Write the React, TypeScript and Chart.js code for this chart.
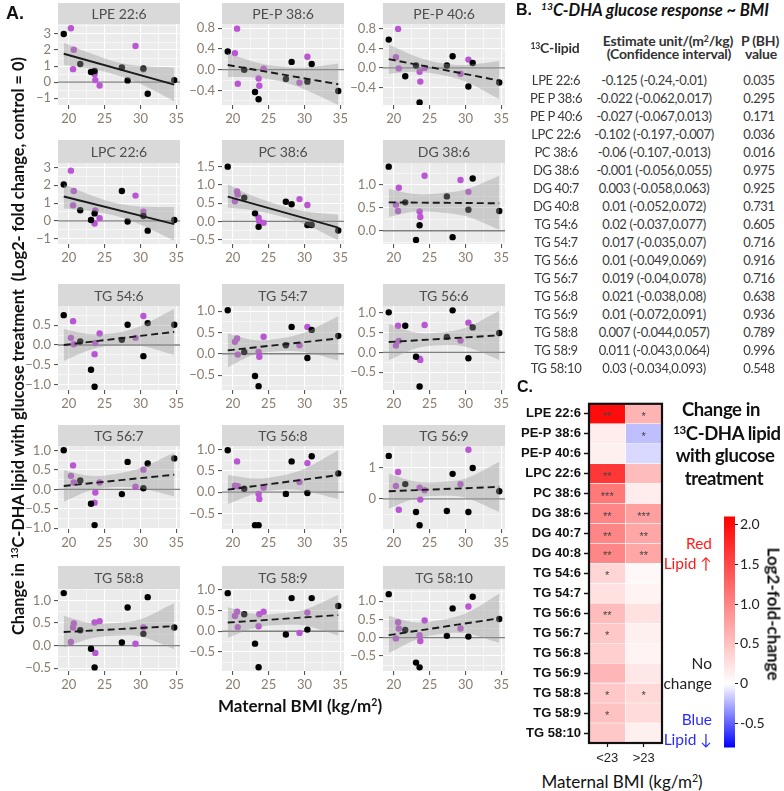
import React, { useEffect, useRef } from 'react';
import { Chart, registerables } from 'chart.js';
Chart.register(...registerables);

// ---------------- Panel A data ----------------
const panelLipids = ['LPE 22:6', 'PE-P 38:6', 'PE-P 40:6', 'LPC 22:6', 'PC 38:6', 'DG 38:6', 'TG 54:6', 'TG 54:7', 'TG 56:6', 'TG 56:7', 'TG 56:8', 'TG 56:9', 'TG 58:8', 'TG 58:9', 'TG 58:10'];
const bmiBlack = [19.3, 21.6, 23.1, 23.6, 27.4, 28.2, 30.4, 31.0, 34.7];
const bmiPurple = [20.3, 20.6, 20.7, 23.6, 23.7, 24.3, 29.3, 30.4];
const lipidBlack = [
  [3.0, 1.13, 0.64, 0.7, 0.91, 0.11, 0.85, -0.72, 0.13],
  [0.35, 0.0, -0.43, -0.57, -0.18, 0.15, -0.23, 0.11, -0.41],
  [0.58, -0.17, 0.05, -0.71, 0.05, 0.24, -0.38, 0.1, -0.3],
  [2.04, 0.6, 0.05, 0.42, 1.68, -0.04, 0.27, -0.55, 0.05],
  [1.5, 0.65, 0.22, -0.15, 0.54, 0.47, -0.1, -0.1, -0.25],
  [1.4, 0.62, -0.2, 0.12, 0.75, -0.14, 0.46, 1.14, 0.43],
  [0.75, 0.09, -0.62, -1.05, 0.13, 0.51, -0.28, 0.55, 0.51],
  [1.02, 0.04, -0.52, -0.76, 0.2, 0.63, -0.1, 0.56, 0.42],
  [1.01, 0.67, -0.11, -0.86, 0.39, 1.06, -0.15, 0.63, 0.49],
  [1.01, 0.23, -0.37, -0.92, -0.12, 0.71, 0.03, 0.67, 0.8],
  [0.98, 0.08, -0.77, -0.77, -0.04, 0.72, -0.02, 0.84, 0.44],
  [1.39, 0.48, -0.42, -0.85, -0.39, 0.81, -0.42, 1.0, 0.25],
  [1.16, 0.34, -0.07, -0.48, 0.07, 0.84, 0.26, 1.07, 0.4],
  [0.92, 0.41, -0.3, -0.87, -0.08, 0.8, 0.04, 0.8, 0.61],
  [1.19, 0.21, -0.68, -0.81, 0.05, 0.8, 0.03, 1.12, 0.51],
];
const lipidPurple = [
  [3.36, 0.81, 2.02, 0.49, 0.13, -0.21, 2.25, 0.8],
  [0.32, 0.79, -0.27, -0.17, -0.31, 0.02, -0.25, 0.25],
  [0.22, 0.8, -0.01, -0.08, -0.28, 0.0, -0.12, 0.17],
  [2.82, 0.87, 1.68, -0.15, 0.58, 0.15, 1.42, 0.51],
  [0.55, 0.82, 0.74, 0.1, 0.0, -0.04, 0.61, 0.45],
  [0.57, 0.43, 0.94, 0.42, 0.3, 1.2, 1.11, 0.85],
  [0.18, 0.6, 0.02, -0.23, 0.05, 0.29, 0.18, 0.73],
  [0.28, 0.36, -0.02, 0.04, -0.07, 0.4, 0.2, 0.63],
  [0.17, 0.67, 0.29, -0.16, -0.19, 0.69, 0.3, 0.75],
  [0.35, 0.62, 0.18, -0.34, -0.08, 0.18, 0.07, 0.51],
  [0.15, 0.72, 0.14, -0.04, -0.16, 0.11, 0.24, 0.68],
  [0.42, 0.87, -0.35, 0.36, -0.02, 0.28, 0.48, 1.59],
  [0.08, 0.4, 0.49, 0.51, -0.16, 0.54, 0.04, 0.4],
  [0.37, 0.47, 0.1, 0.12, 0.41, 0.47, -0.04, 0.45],
  [-0.02, 0.42, 0.25, 0.07, -0.09, 0.47, 0.25, 0.85],
];
const fitBmi = [19.3, 34.7];
const fitStart = [1.77, 0.09, 0.18, 1.37, 0.68, 0.62, 0.0, 0.08, 0.26, 0.09, 0.06, 0.25, 0.3, 0.21, 0.07];
const fitEnd = [-0.15, -0.28, -0.26, -0.18, -0.17, 0.6, 0.33, 0.36, 0.43, 0.38, 0.4, 0.39, 0.43, 0.39, 0.53];
const fitSignificant = [true, false, false, true, true, false, false, false, false, false, false, false, false, false, false];
const bandBmi = [19.3, 23, 26.5, 30, 34.7];
const bandUpper = [
  [2.45, 1.8, 1.27, 1.0, 0.92],
  [0.32, 0.15, 0.06, 0.04, 0.12],
  [0.48, 0.24, 0.1, 0.06, 0.14],
  [2.05, 1.45, 1.0, 0.8, 0.78],
  [1.02, 0.68, 0.45, 0.28, 0.18],
  [0.92, 0.8, 0.82, 0.9, 1.2],
  [0.4, 0.27, 0.3, 0.48, 0.91],
  [0.48, 0.32, 0.36, 0.5, 0.88],
  [0.72, 0.5, 0.5, 0.62, 1.05],
  [0.5, 0.35, 0.4, 0.55, 0.95],
  [0.4, 0.32, 0.38, 0.55, 0.98],
  [0.82, 0.56, 0.55, 0.66, 1.2],
  [0.66, 0.5, 0.5, 0.58, 0.94],
  [0.58, 0.42, 0.43, 0.52, 0.88],
  [0.6, 0.42, 0.48, 0.66, 1.2],
];
const bandLower = [
  [1.07, 0.85, 0.47, -0.1, -1.2],
  [-0.14, -0.15, -0.22, -0.38, -0.68],
  [-0.12, -0.08, -0.14, -0.28, -0.64],
  [0.7, 0.55, 0.28, -0.22, -1.12],
  [0.38, 0.3, 0.15, -0.08, -0.52],
  [0.3, 0.42, 0.4, 0.32, 0.02],
  [-0.4, -0.12, 0.0, -0.02, -0.25],
  [-0.32, -0.02, 0.06, 0.04, -0.16],
  [-0.2, 0.1, 0.18, 0.14, -0.19],
  [-0.32, -0.03, 0.06, 0.03, -0.18],
  [-0.28, -0.04, 0.06, 0.03, -0.16],
  [-0.32, 0.02, 0.1, 0.04, -0.42],
  [-0.04, 0.16, 0.22, 0.2, -0.08],
  [-0.16, 0.08, 0.15, 0.14, -0.1],
  [-0.42, -0.06, 0.1, 0.12, -0.14],
];
const yMin = [-1.42, -0.68, -0.76, -1.3, -0.62, -0.29, -1.13, -0.85, -0.95, -1.02, -0.86, -0.97, -0.56, -0.96, -0.91];
const yMax = [3.62, 0.88, 0.9, 3.25, 1.6, 1.48, 0.98, 1.12, 1.17, 1.12, 1.08, 1.71, 1.25, 1.02, 1.33];
const yTicks = [
  [-1, 0, 1, 2, 3],
  [-0.4, 0, 0.4, 0.8],
  [-0.4, 0, 0.4, 0.8],
  [-1, 0, 1, 2, 3],
  [-0.5, 0, 0.5, 1, 1.5],
  [0, 0.5, 1],
  [-1, -0.5, 0, 0.5],
  [-0.5, 0, 0.5, 1],
  [-0.5, 0, 0.5, 1],
  [-1, -0.5, 0, 0.5, 1],
  [-0.5, 0, 0.5, 1],
  [0, 1],
  [-0.5, 0, 0.5, 1],
  [-0.5, 0, 0.5, 1],
  [-0.5, 0, 0.5, 1],
];
const yDecimals = [0, 1, 1, 0, 1, 1, 1, 1, 1, 1, 1, 0, 1, 1, 1];
const xTicks = [20, 25, 30, 35];
const xMin = 18.5;
const xMax = 35.5;

// ---------------- Panel B data ----------------
const tableLipids = ['LPE 22:6', 'PE P 38:6', 'PE P 40:6', 'LPC 22:6', 'PC 38:6', 'DG 38:6', 'DG 40:7', 'DG 40:8', 'TG 54:6', 'TG 54:7', 'TG 56:6', 'TG 56:7', 'TG 56:8', 'TG 56:9', 'TG 58:8', 'TG 58:9', 'TG 58:10'];
const tableEstimate = [-0.125, -0.022, -0.027, -0.102, -0.06, -0.001, 0.003, 0.01, 0.02, 0.017, 0.01, 0.019, 0.021, 0.01, 0.007, 0.011, 0.03];
const tableCiLow = [-0.24, -0.062, -0.067, -0.197, -0.107, -0.056, -0.058, -0.052, -0.037, -0.035, -0.049, -0.04, -0.038, -0.072, -0.044, -0.043, -0.034];
const tableCiHigh = [-0.01, 0.017, 0.013, -0.007, -0.013, 0.055, 0.063, 0.072, 0.077, 0.07, 0.069, 0.078, 0.08, 0.091, 0.057, 0.064, 0.093];
const tableP = [0.035, 0.295, 0.171, 0.036, 0.016, 0.975, 0.925, 0.731, 0.605, 0.716, 0.916, 0.716, 0.638, 0.936, 0.789, 0.996, 0.548];

// ---------------- Panel C data ----------------
const heatLipids = ['LPE 22:6', 'PE-P 38:6', 'PE-P 40:6', 'LPC 22:6', 'PC 38:6', 'DG 38:6', 'DG 40:7', 'DG 40:8', 'TG 54:6', 'TG 54:7', 'TG 56:6', 'TG 56:7', 'TG 56:8', 'TG 56:9', 'TG 58:8', 'TG 58:9', 'TG 58:10'];
const bmiGroups = ['<23', '>23'];
const fcLow = [2.0, 0.15, 0.12, 1.65, 1.1, 1.0, 1.0, 1.0, 0.35, 0.25, 0.55, 0.45, 0.4, 0.6, 0.45, 0.5, 0.45];
const fcHigh = [0.62, -0.2, -0.12, 0.55, 0.15, 0.78, 0.73, 0.73, 0.06, 0.1, 0.25, 0.12, 0.1, 0.2, 0.32, 0.3, 0.12];
const starsLow = ['**', '', '', '**', '***', '**', '**', '**', '*', '', '**', '*', '', '', '*', '*', ''];
const starsHigh = ['*', '*', '', '', '', '***', '**', '**', '', '', '', '', '', '', '*', '', ''];
const cbMin = -0.8;
const cbMax = 2.1;
const cbTicks = [-0.5, 0, 0.5, 1.0, 1.5, 2.0];
const cbTickLabels = ['-0.5', '0', '0.5', '1.0', '1.5', '2.0'];

// ---------------- layout ----------------
const colLeft = [58, 222, 383];
const plotW = 122;
const rowStripTop = [3, 140, 284, 425, 566];
const rowStripH = [21, 23, 22, 21, 23];
const rowPlotBottom = [105, 244, 390, 529, 671];
const Y_AXIS_W = 45;
const X_AXIS_H = 26;
const RIGHT_PAD = 10;

const TICK_COLOR = '#8a7c70';
const PURPLE = '#BA55D3';

function fcColor(v: number) {
  if (v >= 0) {
    const t = Math.min(v / cbMax, 1);
    const c = Math.round(255 * (1 - t));
    return `rgb(255,${c},${c})`;
  }
  const t = Math.min(-v / -cbMin, 1);
  const c = Math.round(255 * (1 - t));
  return `rgb(${c},${c},255)`;
}

const ggPlugin = {
  id: 'gg',
  beforeDraw(chart: any, _args: any, opts: any) {
    const { ctx, chartArea: a } = chart;
    ctx.save();
    ctx.fillStyle = '#EBEBEB';
    ctx.fillRect(a.left, a.top, a.right - a.left, a.bottom - a.top);
    ctx.fillStyle = '#D9D9D9';
    ctx.fillRect(a.left, a.top - opts.stripH, a.right - a.left, opts.stripH);
    ctx.fillStyle = '#4d4d4d';
    ctx.font = '14px Lato';
    ctx.textAlign = 'center';
    ctx.textBaseline = 'middle';
    ctx.fillText(opts.title, (a.left + a.right) / 2, a.top - opts.stripH / 2 + 1);
    ctx.restore();
  },
};

function fmtTick(v: number, d: number) {
  const s = Math.abs(v).toFixed(d);
  return v < -1e-9 ? '\u2212' + s : s;
}

function ScatterPanel({ i }: { i: number }) {
  const ref = useRef<HTMLCanvasElement>(null);
  const row = Math.floor(i / 3);
  const col = i % 3;
  const left = colLeft[col] - Y_AXIS_W;
  const top = rowStripTop[row];
  const width = Y_AXIS_W + plotW + RIGHT_PAD;
  const height = rowPlotBottom[row] - top + X_AXIS_H;

  useEffect(() => {
    const yMajor = yTicks[i];
    const step = yMajor[1] - yMajor[0];
    const buildY = () => {
      const arr: any[] = [];
      for (let k = -1; k < yMajor.length; k++) {
        const base = k < 0 ? yMajor[0] - step : yMajor[k];
        if (k >= 0) arr.push({ value: base, mj: true });
        const mid = base + step / 2;
        if (mid >= yMin[i] && mid <= yMax[i]) arr.push({ value: mid, mj: false });
      }
      return arr.sort((a, b) => a.value - b.value);
    };
    const buildX = () => {
      const arr: any[] = [];
      xTicks.forEach((t, k) => {
        arr.push({ value: t, mj: true });
        if (k < xTicks.length - 1) arr.push({ value: (t + xTicks[k + 1]) / 2, mj: false });
      });
      return arr;
    };
    const gridOpts = {
      color: '#ffffff',
      lineWidth: (c: any) => (c.tick && c.tick.mj ? 1.1 : 0.55),
      tickColor: (c: any) => (c.tick && c.tick.mj ? '#555555' : 'rgba(0,0,0,0)'),
      tickWidth: 1.1,
      tickLength: 4,
      drawTicks: true,
    };
    const chart = new Chart(ref.current as HTMLCanvasElement, {
      type: 'line',
      data: {
        datasets: [
          {
            data: [{ x: xMin, y: 0 }, { x: xMax, y: 0 }],
            borderColor: '#808080',
            borderWidth: 1.3,
            pointRadius: 0,
            order: 6,
          },
          {
            data: bmiPurple.map((x, k) => ({ x, y: lipidPurple[i][k] })),
            showLine: false,
            pointRadius: 3.2,
            pointBackgroundColor: PURPLE,
            pointBorderColor: PURPLE,
            pointBorderWidth: 0,
            order: 5,
          },
          {
            data: bmiBlack.map((x, k) => ({ x, y: lipidBlack[i][k] })),
            showLine: false,
            pointRadius: 3.2,
            pointBackgroundColor: '#000000',
            pointBorderColor: '#000000',
            pointBorderWidth: 0,
            order: 4,
          },
          {
            data: bandBmi.map((x, k) => ({ x, y: bandUpper[i][k] })),
            borderColor: 'rgba(0,0,0,0)',
            borderWidth: 0,
            pointRadius: 0,
            tension: 0.35,
            fill: false,
            order: 3,
          },
          {
            data: bandBmi.map((x, k) => ({ x, y: bandLower[i][k] })),
            borderColor: 'rgba(0,0,0,0)',
            borderWidth: 0,
            pointRadius: 0,
            tension: 0.35,
            fill: '-1',
            backgroundColor: 'rgba(153,153,153,0.4)',
            order: 2,
          },
          {
            data: [
              { x: fitBmi[0], y: fitStart[i] },
              { x: fitBmi[1], y: fitEnd[i] },
            ],
            borderColor: '#1a1a1a',
            borderWidth: 1.9,
            borderDash: fitSignificant[i] ? [] : [7, 4],
            pointRadius: 0,
            order: 1,
          },
        ],
      },
      options: {
        responsive: false,
        animation: false,
        events: [],
        layout: { padding: { top: rowStripH[row], right: RIGHT_PAD, left: 0, bottom: 0 }, autoPadding: false },
        plugins: {
          legend: { display: false },
          tooltip: { enabled: false },
          gg: { title: panelLipids[i], stripH: rowStripH[row] },
        } as any,
        scales: {
          x: {
            type: 'linear',
            min: xMin,
            max: xMax,
            afterFit: (s: any) => {
              s.height = X_AXIS_H;
            },
            afterBuildTicks: (s: any) => {
              s.ticks = buildX();
            },
            border: { display: false },
            grid: gridOpts as any,
            ticks: {
              autoSkip: false,
              maxRotation: 0,
              minRotation: 0,
              padding: 2,
              color: TICK_COLOR,
              font: { family: 'Lato', size: 13 },
              callback: (v: any, idx: number, ticks: any[]) => (ticks[idx] && ticks[idx].mj ? String(v) : ''),
            },
          },
          y: {
            type: 'linear',
            min: yMin[i],
            max: yMax[i],
            afterFit: (s: any) => {
              s.width = Y_AXIS_W;
            },
            afterBuildTicks: (s: any) => {
              s.ticks = buildY();
            },
            border: { display: false },
            grid: gridOpts as any,
            ticks: {
              autoSkip: false,
              padding: 3,
              color: TICK_COLOR,
              font: { family: 'Lato', size: 13 },
              callback: (v: any, idx: number, ticks: any[]) =>
                ticks[idx] && ticks[idx].mj ? fmtTick(Number(v), yDecimals[i]) : '',
            },
          },
        },
      } as any,
      plugins: [ggPlugin],
    });
    return () => chart.destroy();
  }, [i]);

  return (
    <canvas
      ref={ref}
      width={width}
      height={height}
      style={{ position: 'absolute', left, top, width, height }}
    />
  );
}

const heatFramePlugin = {
  id: 'heatFrame',
  afterDatasetsDraw(chart: any, _a: any, opts: any) {
    const { ctx, chartArea: a } = chart;
    ctx.save();
    ctx.font = '11px "Liberation Sans"';
    ctx.fillStyle = '#444';
    ctx.textAlign = 'center';
    ctx.textBaseline = 'middle';
    chart.data.datasets.forEach((_d: any, di: number) => {
      const meta = chart.getDatasetMeta(di);
      meta.data.forEach((bar: any, j: number) => {
        const s = opts.stars[di][j];
        if (s) ctx.fillText(s, (bar.x + bar.base) / 2, bar.y + 3);
      });
    });
    ctx.strokeStyle = '#111';
    ctx.lineWidth = 2.2;
    ctx.strokeRect(a.left, a.top, a.right - a.left, a.bottom - a.top);
    ctx.restore();
  },
};

const HEAT_LEFT = 510;
const HEAT_TOP = 393;
const HEAT_YAXIS_W = 79;
const HEAT_W = 158;
const HEAT_H = 375;

function HeatMap() {
  const ref = useRef<HTMLCanvasElement>(null);
  useEffect(() => {
    const chart = new Chart(ref.current as HTMLCanvasElement, {
      type: 'bar',
      data: {
        labels: heatLipids,
        datasets: [fcLow, fcHigh].map((vals) => ({
          data: heatLipids.map(() => 1),
          backgroundColor: vals.map(fcColor),
          borderColor: 'rgba(255,255,255,0.55)',
          borderWidth: 0.6,
          borderSkipped: false,
          barPercentage: 1,
          categoryPercentage: 1,
        })),
      },
      options: {
        indexAxis: 'y',
        responsive: false,
        animation: false,
        events: [],
        layout: { padding: { top: 5, right: 6, left: 0, bottom: 0 }, autoPadding: false },
        plugins: {
          legend: { display: false },
          tooltip: { enabled: false },
          heatFrame: { stars: [starsLow, starsHigh] },
        } as any,
        scales: {
          x: {
            type: 'linear',
            stacked: true,
            min: 0,
            max: 2,
            afterFit: (s: any) => {
              s.height = 25;
            },
            afterBuildTicks: (s: any) => {
              s.ticks = [{ value: 0.5 }, { value: 1.5 }];
            },
            border: { display: false },
            grid: { drawOnChartArea: false, tickLength: 4, tickColor: '#111', tickWidth: 1.2 },
            ticks: {
              autoSkip: false,
              maxRotation: 0,
              padding: 4,
              color: '#222',
              font: { family: 'Liberation Sans', size: 13 },
              callback: (_v: any, idx: number) => bmiGroups[idx],
            },
          },
          y: {
            type: 'category',
            stacked: true,
            afterFit: (s: any) => {
              s.width = HEAT_YAXIS_W;
            },
            border: { display: false },
            grid: { drawOnChartArea: false, offset: false, tickLength: 5, tickColor: '#111', tickWidth: 1.5 },
            ticks: {
              autoSkip: false,
              padding: 3,
              color: '#111',
              font: { family: 'Liberation Sans', size: 13, weight: 'bold' },
            },
          },
        },
      } as any,
      plugins: [heatFramePlugin],
    });
    return () => chart.destroy();
  }, []);
  return (
    <canvas
      ref={ref}
      width={HEAT_W}
      height={HEAT_H}
      style={{ position: 'absolute', left: HEAT_LEFT, top: HEAT_TOP, width: HEAT_W, height: HEAT_H }}
    />
  );
}

function ColorBar() {
  const ref = useRef<HTMLCanvasElement>(null);
  useEffect(() => {
    const zeroFrac = (0 - cbMin) / (cbMax - cbMin);
    const chart = new Chart(ref.current as HTMLCanvasElement, {
      type: 'bar',
      data: {
        labels: [''],
        datasets: [
          {
            data: [[cbMin, cbMax]] as any,
            barPercentage: 1,
            categoryPercentage: 1,
            borderWidth: 0,
            backgroundColor: (c: any) => {
              const ch = c.chart;
              if (!ch.chartArea) return '#ffffff';
              const ys = ch.scales.y;
              const g = ch.ctx.createLinearGradient(0, ys.getPixelForValue(cbMin), 0, ys.getPixelForValue(cbMax));
              g.addColorStop(0, fcColor(cbMin));
              g.addColorStop(zeroFrac, '#ffffff');
              g.addColorStop(1, fcColor(cbMax));
              return g;
            },
          },
        ],
      },
      options: {
        responsive: false,
        animation: false,
        events: [],
        layout: { padding: { top: 10, right: 0, left: 0, bottom: 10 }, autoPadding: false },
        plugins: { legend: { display: false }, tooltip: { enabled: false } },
        scales: {
          x: { display: false },
          y: {
            position: 'right',
            min: cbMin,
            max: cbMax,
            afterFit: (s: any) => {
              s.width = 40;
            },
            afterBuildTicks: (s: any) => {
              s.ticks = cbTicks.map((v) => ({ value: v }));
            },
            border: { display: false },
            grid: { drawOnChartArea: false, tickLength: 3, tickColor: '#222', tickWidth: 1 },
            ticks: {
              autoSkip: false,
              padding: 2,
              color: '#222',
              font: { family: 'Lato', size: 14 },
              callback: (_v: any, idx: number) => cbTickLabels[idx],
            },
          },
        },
      } as any,
    });
    return () => chart.destroy();
  }, []);
  return (
    <canvas
      ref={ref}
      width={51}
      height={252}
      style={{ position: 'absolute', left: 724, top: 506, width: 51, height: 252 }}
    />
  );
}

function T({ x, y, align = 'center', style, children }: any) {
  const tx = align === 'center' ? '-50%' : align === 'right' ? '-100%' : '0';
  return (
    <div
      style={{
        position: 'absolute',
        left: x,
        top: y,
        transform: `translate(${tx}, -50%)`,
        whiteSpace: 'nowrap',
        lineHeight: 1.1,
        ...style,
      }}
    >
      {children}
    </div>
  );
}

const supStyle: any = { fontSize: '0.62em', verticalAlign: '0.55em', lineHeight: 0 };
const bodyStyle: any = { fontSize: 13, letterSpacing: '-0.35px', color: '#3a3a3a' };
const headStyle: any = { fontWeight: 700, fontSize: 14, letterSpacing: '-0.2px', color: '#333' };
const heatTitleStyle: any = { fontWeight: 700, fontSize: 18.5, letterSpacing: '-0.4px' };

export default function App() {
  const tableRowY = (k: number) => 79.5 + 18 * k;
  return (
    <div
      style={{
        position: 'absolute',
        left: 0,
        top: 0,
        width: 784,
        height: 791,
        background: '#ffffff',
        overflow: 'hidden',
        fontFamily: 'Lato, sans-serif',
        color: '#111',
      }}
    >
      {panelLipids.map((_, i) => (
        <ScatterPanel key={i} i={i} />
      ))}
      <HeatMap />
      <ColorBar />

      {/* Panel A labels */}
      <T x={6} y={14} align="left" style={{ fontWeight: 700, fontSize: 18, fontFamily: 'Liberation Sans' }}>
        A.
      </T>
      <div
        style={{
          position: 'absolute',
          left: 18,
          top: 346,
          transform: 'translate(-50%, -50%) rotate(-90deg)',
          whiteSpace: 'nowrap',
          fontWeight: 700,
          fontSize: 16.3,
          lineHeight: 1,
        }}
      >
        Change in <sup style={supStyle}>13</sup>C-DHA lipid with glucose treatment&nbsp;&nbsp;(Log2- fold change, control = 0)
      </div>
      <T x={300} y={706} style={{ fontWeight: 700, fontSize: 17 }}>
        Maternal BMI (kg/m<sup style={supStyle}>2</sup>)
      </T>

      {/* Panel B */}
      <T x={516} y={10} align="left" style={{ fontWeight: 700, fontSize: 16, fontFamily: 'Liberation Sans' }}>
        B.
      </T>
      <T x={655} y={10} style={{ fontWeight: 700, fontStyle: 'italic', fontSize: 16.5 }}>
        <sup style={supStyle}>13</sup>C-DHA glucose response ~ BMI
      </T>
      <T x={555} y={48} style={headStyle}>
        <sup style={supStyle}>13</sup>C-lipid
      </T>
      <T x={668} y={40.5} style={headStyle}>
        Estimate unit/(m<sup style={supStyle}>2</sup>/kg)
      </T>
      <T x={669} y={53.5} style={headStyle}>
        (Confidence interval)
      </T>
      <T x={760} y={40.5} style={headStyle}>
        P (BH)
      </T>
      <T x={761} y={53.5} style={headStyle}>
        value
      </T>
      {tableLipids.map((name, k) => (
        <React.Fragment key={name}>
          <T x={556} y={tableRowY(k)} style={bodyStyle}>
            {name}
          </T>
          <T x={654} y={tableRowY(k)} style={bodyStyle}>
            {`${tableEstimate[k]} (${tableCiLow[k]},${tableCiHigh[k]})`}
          </T>
          <T x={759} y={tableRowY(k)} style={bodyStyle}>
            {tableP[k].toFixed(3)}
          </T>
        </React.Fragment>
      ))}

      {/* Panel C */}
      <T x={517} y={387} align="left" style={{ fontWeight: 700, fontSize: 16, fontFamily: 'Liberation Sans' }}>
        C.
      </T>
      <T x={721} y={409} style={heatTitleStyle}>
        Change in
      </T>
      <T x={727} y={432.5} style={heatTitleStyle}>
        <sup style={supStyle}>13</sup>C-DHA lipid
      </T>
      <T x={725} y={455} style={heatTitleStyle}>
        with glucose
      </T>
      <T x={724} y={477.5} style={heatTitleStyle}>
        treatment
      </T>
      <T x={712} y={544} align="right" style={{ fontSize: 15.5, color: '#ff1a1a' }}>
        Red
      </T>
      <T x={712} y={563.5} align="right" style={{ fontSize: 15.5, color: '#ff1a1a' }}>
        Lipid ↑
      </T>
      <T x={712} y={664} align="right" style={{ fontSize: 15.5, color: '#222' }}>
        No
      </T>
      <T x={712} y={683.5} align="right" style={{ fontSize: 15.5, color: '#222' }}>
        change
      </T>
      <T x={712} y={720} align="right" style={{ fontSize: 15.5, color: '#2b2bff' }}>
        Blue
      </T>
      <T x={712} y={739.5} align="right" style={{ fontSize: 15.5, color: '#2b2bff' }}>
        Lipid ↓
      </T>
      <div
        style={{
          position: 'absolute',
          left: 774,
          top: 614,
          transform: 'translate(-50%, -50%) rotate(90deg)',
          whiteSpace: 'nowrap',
          fontWeight: 700,
          fontSize: 17,
          lineHeight: 1,
        }}
      >
        Log2-fold-change
      </div>
      <T x={622} y={781.5} style={{ fontSize: 17 }}>
        Maternal BMI (kg/m<sup style={supStyle}>2</sup>)
      </T>
    </div>
  );
}
